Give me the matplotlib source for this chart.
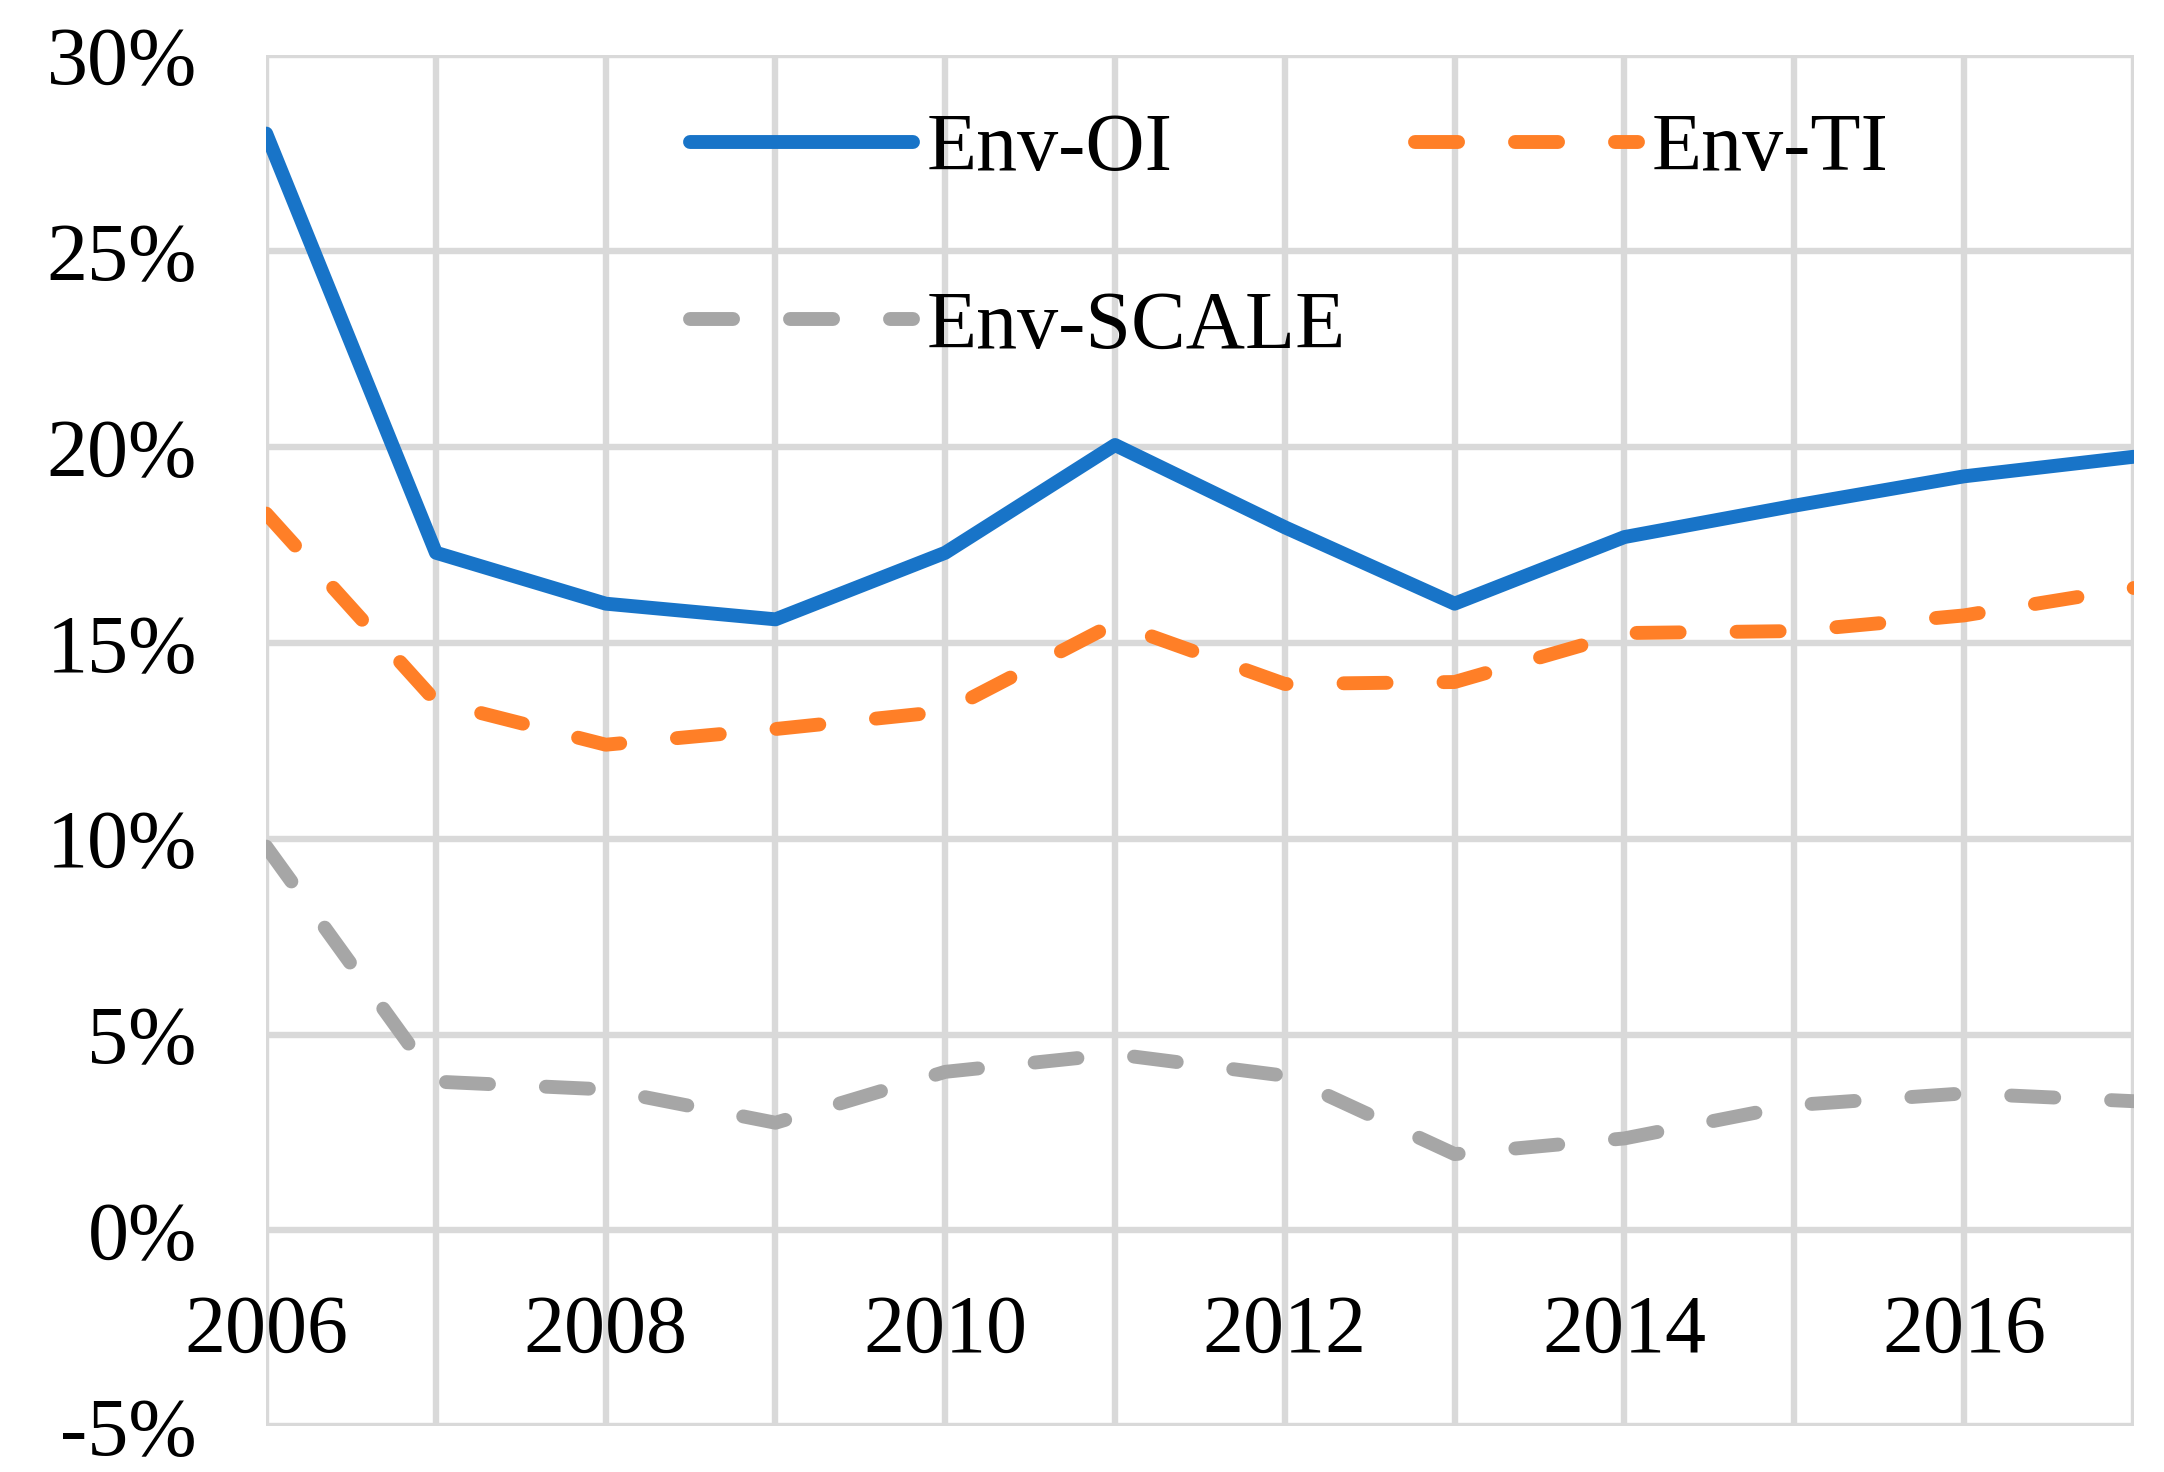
import matplotlib
matplotlib.use("Agg")
import matplotlib.pyplot as plt

years = list(range(2006, 2018))
env_oi = [28.0, 17.3, 16.0, 15.6, 17.3, 20.05, 17.95, 16.0, 17.7, 18.5, 19.25, 19.75]
env_ti = [18.3, 13.5, 12.4, 12.8, 13.25, 15.5, 13.95, 14.0, 15.25, 15.3, 15.7, 16.4]
env_scale = [9.8, 3.8, 3.6, 2.75, 4.05, 4.5, 3.95, 1.95, 2.35, 3.2, 3.5, 3.3]
y_ticks = [-5, 0, 5, 10, 15, 20, 25, 30]

plt.rcParams['font.family'] = ['Liberation Serif', 'DejaVu Serif']

fig = plt.figure(figsize=(21.64, 14.72), dpi=100)
ax = fig.add_axes([0.123, 0.031, 0.863, 0.9315])

lw = 10
ax.plot(years, env_oi, color='#1874C8', lw=lw, solid_capstyle='round',
        solid_joinstyle='round', label='Env-OI', zorder=3)
ax.plot(years, env_ti, color='#FF7F27', lw=lw, linestyle=(0, (3.1, 4.1)),
        dash_capstyle='round', label='Env-TI', zorder=3)
ax.plot(years, env_scale, color='#A6A6A6', lw=lw, linestyle=(0, (3.1, 4.1)),
        dash_capstyle='round', label='Env-SCALE', zorder=3)

ax.set_xlim(2006, 2017)
ax.set_ylim(-5, 30)
ax.set_xticks(years)
ax.set_xticklabels([str(y) if y % 2 == 0 else '' for y in years])
ax.set_yticks(y_ticks)
ax.set_yticklabels(['%d%%' % v for v in y_ticks])

ax.grid(True, color='#D9D9D9', lw=4.6)
ax.set_axisbelow(True)
for s in ax.spines.values():
    s.set_visible(False)
ax.spines['bottom'].set_position(('data', 0))

ax.tick_params(axis='both', length=0, labelsize=59)
ax.tick_params(axis='y', pad=50)
ax.tick_params(axis='x', pad=46)

h, l = ax.get_legend_handles_labels()
order = [0, 2, 1]
ax.legend([h[i] for i in order], [l[i] for i in order], ncol=2, frameon=False,
          fontsize=59, loc='upper left', bbox_to_anchor=(0.227, 0.958),
          borderpad=0, borderaxespad=0, handlelength=2.72, handletextpad=0.17,
          columnspacing=0.84, labelspacing=1.24)

fig.savefig('out.png', dpi=100)
